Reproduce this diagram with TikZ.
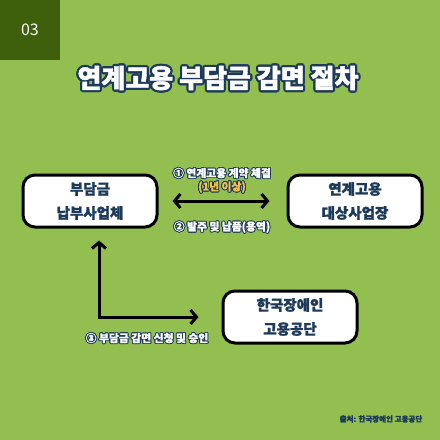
\documentclass[tikz,border=0pt]{standalone}
\usepackage{fontspec}
\IfFontExistsTF{Noto Sans CJK KR Black}
  {\setmainfont{Noto Sans CJK KR}[BoldFont={Noto Sans CJK KR Black},BoldFeatures={FakeBold=1.5}]}
  {\setmainfont{Noto Sans CJK KR}[BoldFeatures={FakeBold=3}]}
\usepackage{tikz}
\usetikzlibrary{arrows.meta}
\definecolor{figbg}{HTML}{92BF4F}
\definecolor{figdark}{HTML}{3E5F0B}
\definecolor{fignavy}{HTML}{1D3A5A}
\definecolor{figyellow}{HTML}{F2C14E}
% text with a navy ring: name, position, ring size, fill colour, style, text
\newcommand\halonode[6]{%
  \foreach \a in {0,30,...,330}
    \node[#5,text=fignavy] (#1ring\a) at ([shift={(\a:#3)}]#2) {#6};
  \node[#5,text=#4] (#1) at (#2) {#6};}
\tikzset{
  stepbox/.style={draw=black,line width=3pt,fill=white,rounded corners=12pt,
    minimum width=134pt,minimum height=52pt,align=center,text=fignavy,
    font=\fontsize{14.5}{24}\selectfont\bfseries},
  lbl/.style={inner sep=0pt,font=\fontsize{10.8}{12}\selectfont\bfseries},
  arr/.style={line width=3pt,{Straight Barb[length=6pt,width=14pt]}-{Straight Barb[length=6pt,width=14pt]}}
}

\begin{document}
\begin{tikzpicture}[x=1pt,y=-1pt]
    \useasboundingbox (0,0) rectangle (440,440);
    \fill[figbg] (0,0) rectangle (440,440);
    \fill[figdark] (0,0) rectangle (60,60);
    \node[text=white,font=\fontsize{16}{18}\selectfont] (num) at (30,30) {03};
    \halonode{title}{218,78}{2.2}{white}{inner sep=0pt,font=\fontsize{26}{28}\selectfont\bfseries}{연계고용 부담금 감면 절차}
    \node[stepbox] (payer) at (90,201) {부담금\\납부사업체};
    \node[stepbox] (target) at (355,201) {연계고용\\대상사업장};
    \node[stepbox] (kead) at (290,317) {한국장애인\\고용공단};
    \draw[arr,shorten <=14pt,shorten >=17pt] (payer.east) -- (target.west);
    \draw[arr,shorten <=12pt,shorten >=23pt] ([xshift=9pt]payer.south) |- (kead.west);
    \halonode{lblContract}{222,173}{0.9}{white}{lbl}{① 연계고용 계약 체결}
    \halonode{lblTerm}{222,187}{0.9}{figyellow}{lbl}{(1년 이상)}
    \halonode{lblOrder}{222,227}{0.9}{white}{lbl}{② 발주 및 납품(용역)}
    \halonode{lblApply}{147,338}{0.9}{white}{lbl}{③ 부담금 감면 신청 및 승인}
    \node[text=fignavy,font=\fontsize{7.5}{9}\selectfont\bfseries] (source) at (381,419) {출처: 한국장애인 고용공단};
  \end{tikzpicture}
\end{document}
